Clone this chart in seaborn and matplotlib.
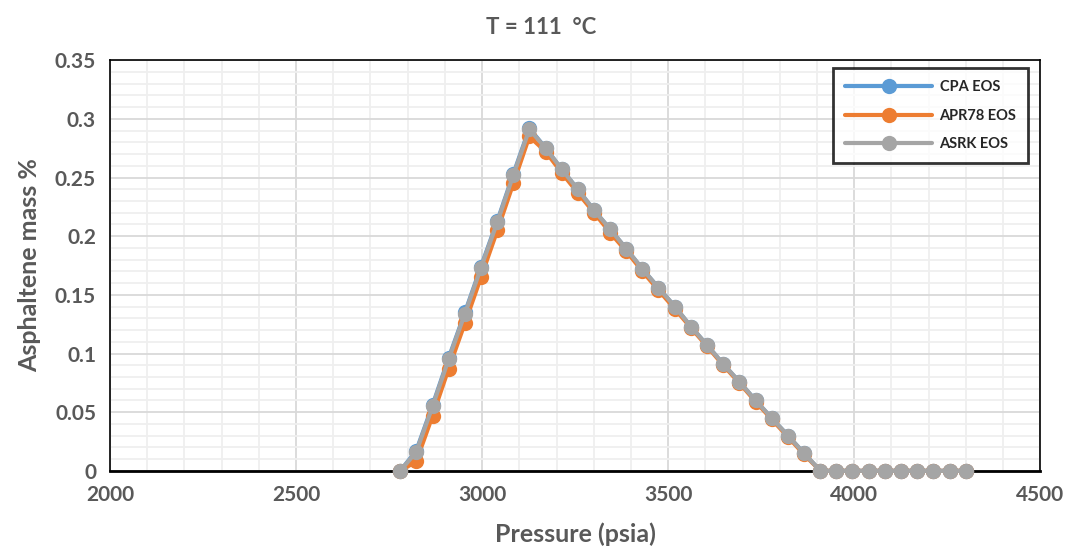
import matplotlib
matplotlib.use("Agg")
import matplotlib.pyplot as plt
from matplotlib.ticker import MultipleLocator
import seaborn as sns
import pandas as pd

# pressures (psia)
pressure = [2780, 2823, 2867, 2910, 2954, 2997, 3041, 3084, 3127, 3171, 3214, 3257,
            3301, 3344, 3388, 3431, 3474, 3518, 3561, 3605, 3648, 3691, 3735, 3778,
            3822, 3865, 3909, 3952, 3995, 4039, 4082, 4126, 4169, 4212, 4256, 4300]

# asphaltene mass %
cpa = [0, 0.017, 0.056, 0.096, 0.135, 0.174, 0.213, 0.253, 0.292, 0.275, 0.257, 0.240,
       0.222, 0.206, 0.189, 0.172, 0.156, 0.140, 0.123, 0.107, 0.091, 0.076, 0.060, 0.045,
       0.030, 0.015, 0, 0, 0, 0, 0, 0, 0, 0, 0, 0]
apr78 = [0, 0.008, 0.047, 0.087, 0.126, 0.165, 0.205, 0.245, 0.285, 0.272, 0.254, 0.237,
         0.220, 0.203, 0.187, 0.170, 0.154, 0.138, 0.122, 0.106, 0.090, 0.075, 0.059, 0.044,
         0.029, 0.014, 0, 0, 0, 0, 0, 0, 0, 0, 0, 0]
asrk = [0, 0.016, 0.055, 0.095, 0.134, 0.173, 0.212, 0.252, 0.291, 0.275, 0.257, 0.240,
        0.222, 0.206, 0.189, 0.172, 0.156, 0.140, 0.123, 0.107, 0.091, 0.076, 0.060, 0.045,
        0.030, 0.015, 0, 0, 0, 0, 0, 0, 0, 0, 0, 0]

series = {"CPA EOS": cpa, "APR78 EOS": apr78, "ASRK EOS": asrk}
colors = {"CPA EOS": "#5B9BD5", "APR78 EOS": "#ED7D31", "ASRK EOS": "#A5A5A5"}

rows = []
for name, vals in series.items():
    for p, v in zip(pressure, vals):
        rows.append({"Pressure": p, "Value": v, "Model": name})
df = pd.DataFrame(rows)

sns.set_style("white")
plt.rcParams["font.family"] = ["Lato", "DejaVu Sans"]
txt = "#595959"

fig = plt.figure(figsize=(10.67, 5.52), dpi=100)
ax = fig.add_axes([0.103, 0.147, 0.872, 0.744])

sns.lineplot(data=df, x="Pressure", y="Value", hue="Model", palette=colors,
             marker="o", markersize=11, markeredgewidth=0, linewidth=3,
             sort=False, ax=ax, clip_on=False, zorder=3)

ax.set_xlim(2000, 4500)
ax.set_ylim(0, 0.35)
ax.xaxis.set_major_locator(MultipleLocator(500))
ax.xaxis.set_minor_locator(MultipleLocator(100))
ax.yaxis.set_major_locator(MultipleLocator(0.05))
ax.yaxis.set_minor_locator(MultipleLocator(0.01))
ax.set_yticks([0, 0.05, 0.1, 0.15, 0.2, 0.25, 0.3, 0.35])
ax.set_yticklabels(["0", "0.05", "0.1", "0.15", "0.2", "0.25", "0.3", "0.35"])
ax.grid(which="major", color="#D9D9D9", linewidth=1.3, zorder=0)
ax.grid(which="minor", color="#EFEFEF", linewidth=1.3, zorder=0)
ax.set_axisbelow(True)
for s in ax.spines.values():
    s.set_color("black")
    s.set_linewidth(1.2)
ax.spines["bottom"].set_linewidth(2)

ax.tick_params(which="both", length=0, pad=10, labelsize=15, labelcolor=txt)
for lab in ax.get_xticklabels() + ax.get_yticklabels():
    lab.set_fontweight("bold")

ax.set_xlabel("Pressure (psia)", fontsize=18, fontweight="bold", color=txt, labelpad=13)
ax.set_ylabel("Asphaltene mass %", fontsize=18, fontweight="bold", color=txt, labelpad=10)
fig.suptitle("T = 111  °C", x=0.507, y=0.97, fontsize=16, fontweight="bold", color=txt)

leg = ax.legend(loc="upper right", bbox_to_anchor=(0.99, 0.987), frameon=True,
                fancybox=False, edgecolor="black", prop={"weight": "bold", "size": 10.5},
                handlelength=6, borderpad=0.8, labelspacing=1.0, borderaxespad=0.2,
                handletextpad=0.5)
leg.get_frame().set_linewidth(2)
leg.set_title(None)

fig.savefig("out.png", dpi=100)
